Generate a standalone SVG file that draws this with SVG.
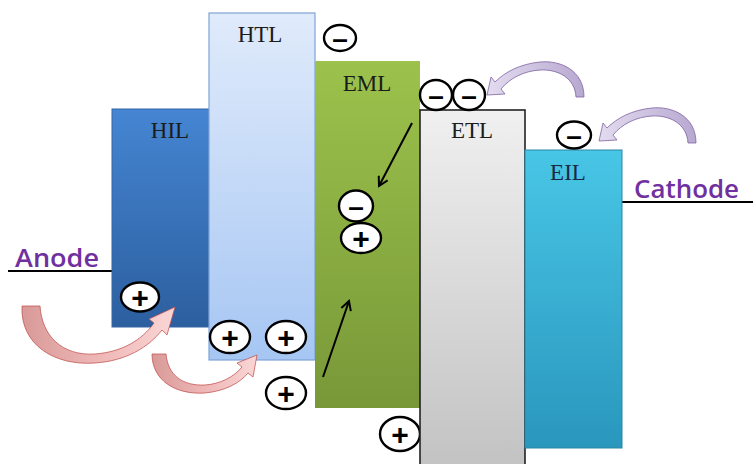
<svg xmlns="http://www.w3.org/2000/svg" width="753" height="464" viewBox="0 0 753 464">
  <defs>
    <linearGradient id="gHIL" x1="0" y1="0" x2="0" y2="1">
      <stop offset="0" stop-color="#4585d2"/>
      <stop offset="1" stop-color="#2c5f9f"/>
    </linearGradient>
    <linearGradient id="gHTL" x1="0" y1="0" x2="0" y2="1">
      <stop offset="0" stop-color="#e0ebfb"/>
      <stop offset="1" stop-color="#a6c6f3"/>
    </linearGradient>
    <linearGradient id="gEML" x1="0" y1="0" x2="0" y2="1">
      <stop offset="0" stop-color="#9cc24c"/>
      <stop offset="1" stop-color="#789838"/>
    </linearGradient>
    <linearGradient id="gETL" x1="0" y1="0" x2="0" y2="1">
      <stop offset="0" stop-color="#f0f0f0"/>
      <stop offset="1" stop-color="#c2c2c2"/>
    </linearGradient>
    <linearGradient id="gEIL" x1="0" y1="0" x2="0" y2="1">
      <stop offset="0" stop-color="#48c6e6"/>
      <stop offset="1" stop-color="#2a97bd"/>
    </linearGradient>
    <linearGradient id="gPink" x1="0" y1="0" x2="1" y2="0">
      <stop offset="0" stop-color="#d89a98"/>
      <stop offset="0.5" stop-color="#eeb7b6"/>
      <stop offset="1" stop-color="#fad6d6"/>
    </linearGradient>
    <linearGradient id="gPurple" x1="1" y1="0" x2="0" y2="0">
      <stop offset="0" stop-color="#b7a8d0"/>
      <stop offset="1" stop-color="#e3dcef"/>
    </linearGradient>
    <marker id="openHead" viewBox="0 0 12 12" refX="10" refY="6" markerWidth="12" markerHeight="12" markerUnits="userSpaceOnUse" orient="auto">
      <path d="M1,1 L10,6 L1,11" fill="none" stroke="#000" stroke-width="2"/>
    </marker>
  </defs>
  <style>
    .layer-label { font-family: "Liberation Serif", "Times New Roman", serif; font-size: 23px; fill: #1c1c1c; text-anchor: middle; }
    .electrode { font-family: "Open Sans", "Liberation Sans", sans-serif; font-size: 26px; font-weight: 600; fill: #7030a0; }
    .wire { stroke: #000; stroke-width: 2.2; }
    .carrier { fill: #fff; stroke: #000; stroke-width: 2.4; }
    .sign { font-family: "Liberation Sans", Arial, sans-serif; font-weight: bold; fill: #000; text-anchor: middle; }
    .plus { font-size: 30px; }
    .minus { font-size: 28px; }
    .pink { fill: url(#gPink); stroke: #c0504d; stroke-opacity: 0.75; stroke-width: 1; }
    .purple { fill: url(#gPurple); stroke: #8064a2; stroke-opacity: 0.8; stroke-width: 1; }
    .drift { stroke: #000; stroke-width: 2; fill: none; marker-end: url(#openHead); }
  </style>

  <!-- electrodes -->
  <g id="anode">
    <line class="wire" x1="8" y1="271" x2="112" y2="271"/>
    <text class="electrode" x="15" y="267" textLength="84" lengthAdjust="spacingAndGlyphs">Anode</text>
  </g>
  <g id="cathode">
    <line class="wire" x1="622" y1="202" x2="753" y2="202"/>
    <text class="electrode" x="634" y="198" textLength="105" lengthAdjust="spacingAndGlyphs">Cathode</text>
  </g>

  <!-- device layers -->
  <g id="hil">
    <rect x="112" y="109" width="98" height="218" fill="url(#gHIL)" stroke="#3567a8" stroke-width="1"/>
    <text class="layer-label" x="170" y="138">HIL</text>
  </g>
  <g id="htl">
    <rect x="209" y="13" width="106" height="347" fill="url(#gHTL)" stroke="#7fa3d6" stroke-width="1.2"/>
    <text class="layer-label" x="260" y="42">HTL</text>
  </g>
  <g id="eml">
    <rect x="315" y="61" width="105" height="347" fill="url(#gEML)"/>
    <text class="layer-label" x="367" y="91">EML</text>
  </g>
  <!-- hole waiting below the ETL edge -->
  <g id="hole-etl">
    <ellipse class="carrier" cx="400" cy="434" rx="20" ry="17"/>
    <text class="sign plus" x="400" y="445">+</text>
  </g>
  <g id="etl">
    <rect x="420" y="110" width="105" height="360" fill="url(#gETL)" stroke="#222" stroke-width="1.6"/>
    <text class="layer-label" x="472" y="138">ETL</text>
  </g>
  <g id="eil">
    <rect x="525" y="150" width="97" height="298" fill="url(#gEIL)" stroke="#2a86a8" stroke-width="1"/>
    <text class="layer-label" x="568" y="180" style="fill:#1b2a44">EIL</text>
  </g>

  <!-- charge carriers -->
  <g id="hole-anode">
    <ellipse class="carrier" cx="140" cy="297" rx="19" ry="14.5"/>
    <text class="sign plus" x="140" y="308">+</text>
  </g>
  <g id="hole-htl-1">
    <ellipse class="carrier" cx="230" cy="337" rx="20" ry="16"/>
    <text class="sign plus" x="230" y="348">+</text>
  </g>
  <g id="hole-htl-2">
    <ellipse class="carrier" cx="286" cy="337" rx="20" ry="16"/>
    <text class="sign plus" x="286" y="348">+</text>
  </g>
  <g id="hole-htl-3">
    <ellipse class="carrier" cx="286" cy="393" rx="20" ry="16"/>
    <text class="sign plus" x="286" y="404">+</text>
  </g>
  <g id="electron-htl">
    <ellipse class="carrier" cx="340" cy="38" rx="16" ry="13"/>
    <text class="sign minus" x="340" y="48">–</text>
  </g>
  <g id="electron-etl-1">
    <ellipse class="carrier" cx="436" cy="95" rx="16" ry="15"/>
    <text class="sign minus" x="436" y="105">–</text>
  </g>
  <g id="electron-etl-2">
    <ellipse class="carrier" cx="469" cy="95" rx="16" ry="15"/>
    <text class="sign minus" x="469" y="105">–</text>
  </g>
  <g id="electron-eil">
    <ellipse class="carrier" cx="574" cy="135" rx="17" ry="13.5"/>
    <text class="sign minus" x="574" y="145">–</text>
  </g>
  <g id="exciton">
    <ellipse class="carrier" cx="356" cy="206" rx="17" ry="15.5"/>
    <text class="sign minus" x="356" y="216">–</text>
    <ellipse class="carrier" cx="361" cy="238" rx="20" ry="15"/>
    <text class="sign plus" x="361" y="249">+</text>
  </g>

  <!-- connectors: injection and drift arrows -->
  <g id="connectors">
    <path class="pink" d="M22,306 C20,345 55,366 95,363 C125,361 148,348 162,330 L167,335 L175,307 L149,319 L154,323 C142,340 122,352 95,354 C62,356 42,336 40,306 Z"/>
    <path class="pink" d="M152,354 C152,380 175,395 205,393 C225,391 240,383 248,373 L253,377 L257,355 L237,363 L242,367 C234,377 220,384 205,385 C182,386 168,375 166,354 Z"/>
    <path class="purple" d="M584,97 C584,70 560,60 540,62 C520,64 505,72 495,82 L491,77 L487,95 L505,94 L501,89 C510,78 524,71 540,70 C558,69 575,78 576,97 Z"/>
    <path class="purple" transform="translate(112,46)" d="M584,97 C584,70 560,60 540,62 C520,64 505,72 495,82 L491,77 L487,95 L505,94 L501,89 C510,78 524,71 540,70 C558,69 575,78 576,97 Z"/>
    <line class="drift" x1="412" y1="123" x2="379" y2="186"/>
    <line class="drift" x1="323" y1="377" x2="349" y2="301"/>
  </g>
</svg>
